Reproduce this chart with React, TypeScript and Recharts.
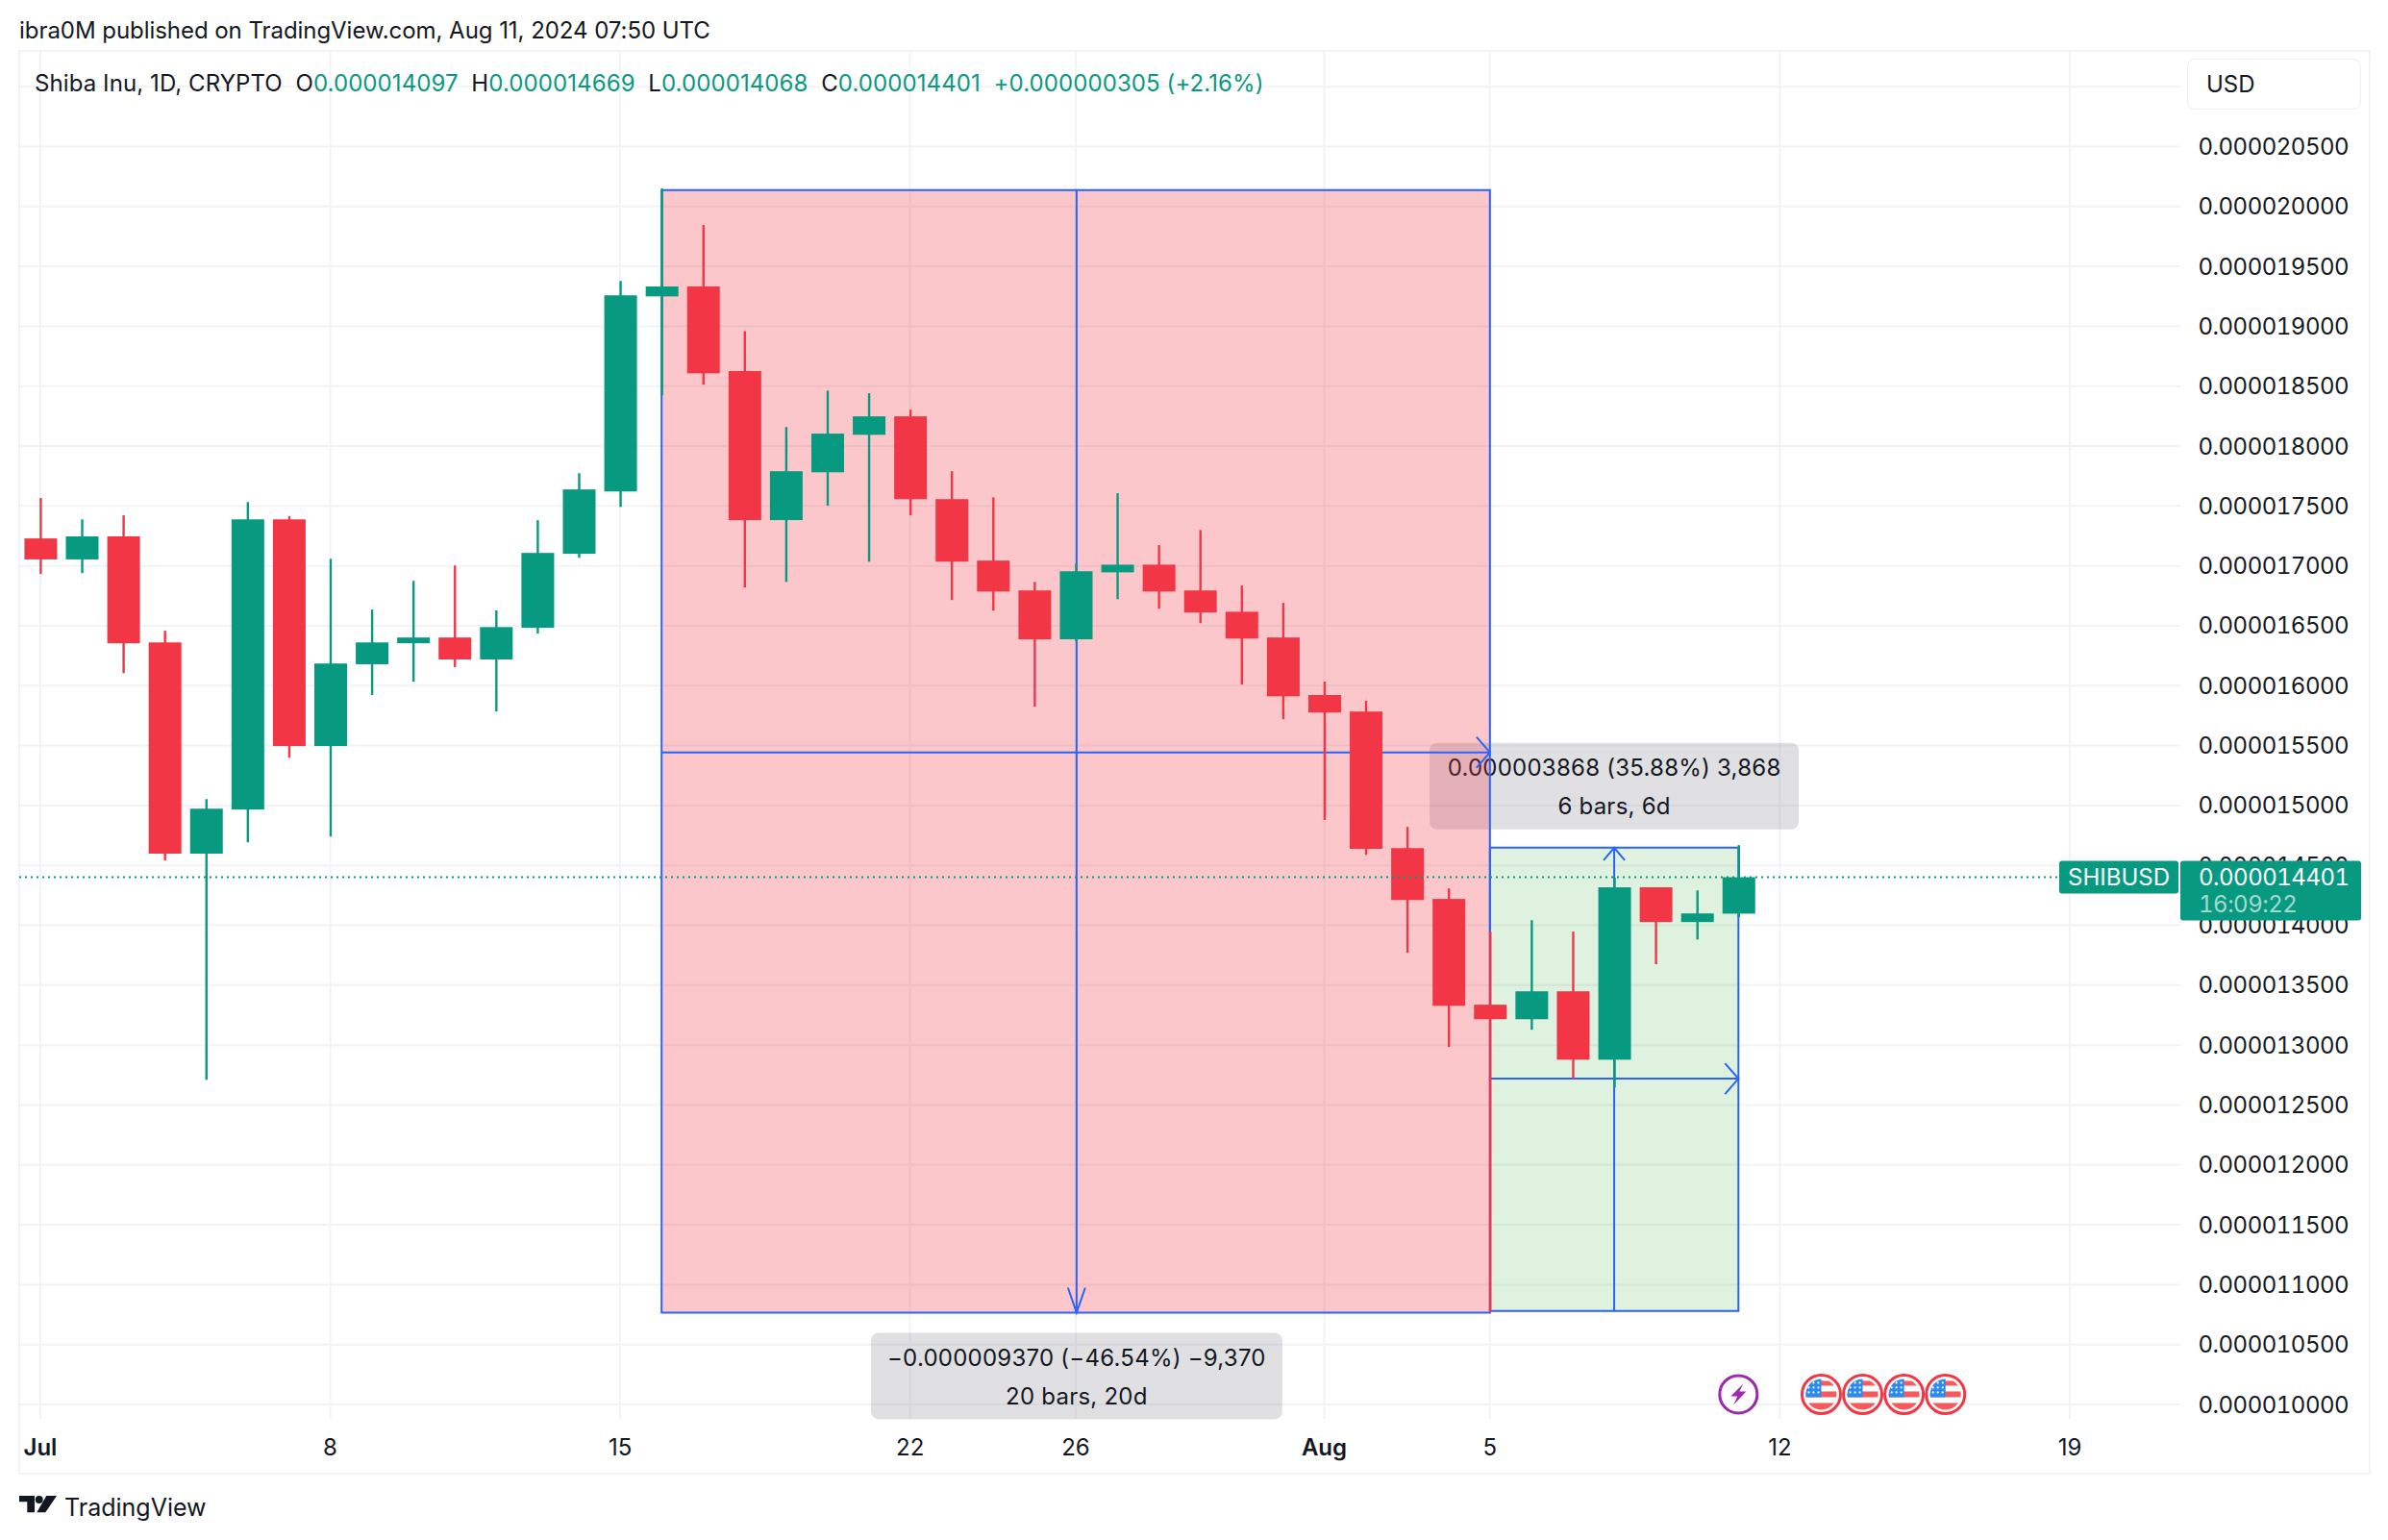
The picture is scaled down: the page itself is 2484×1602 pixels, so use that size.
import React from 'react';
import {
  ComposedChart,
  Bar,
  XAxis,
  YAxis,
  CartesianGrid,
  ReferenceArea,
  ReferenceLine,
  ReferenceDot,
} from 'recharts';

// prices are in millionths of a dollar, day 0 is Jul 1
const days = [
  0, 1, 2, 3, 4, 5, 6, 7, 8, 9, 10, 11, 12, 13, 14, 15, 16, 17, 18, 19, 20,
  21, 22, 23, 24, 25, 26, 27, 28, 29, 30, 31, 32, 33, 34, 35, 36, 37, 38, 39, 40, 41,
];
const opens = [
  17.229, 17.054, 17.246, 16.361, 14.598, 14.966, 17.388, 15.496, 16.179, 16.354, 16.402,
  16.219, 16.483, 17.101, 17.621, 19.249, 19.332, 18.626, 17.382, 17.781, 18.094, 18.248,
  17.557, 17.044, 16.795, 16.387, 16.946, 17.01, 16.795, 16.617, 16.402, 15.922, 15.784,
  14.644, 14.22, 13.337, 13.216, 13.449, 12.878, 14.317, 14.027, 14.097,
];
const highs = [
  17.567, 17.388, 17.422, 16.459, 15.054, 17.533, 17.415, 17.06, 16.635, 16.875, 17.003,
  16.628, 17.381, 17.773, 19.378, 20.149, 19.845, 18.96, 18.159, 18.463, 18.441, 18.303,
  17.79, 17.572, 16.866, 17.019, 17.606, 17.173, 17.299, 16.835, 16.691, 16.034, 15.873,
  14.821, 14.308, 13.947, 14.042, 13.947, 14.397, 14.317, 14.291, 14.669,
];
const lows = [
  16.932, 16.939, 16.104, 14.54, 12.71, 14.693, 15.398, 14.74, 15.922, 16.033, 16.155,
  15.784, 16.435, 17.067, 17.492, 18.423, 18.512, 16.82, 16.866, 17.502, 17.035, 17.422,
  16.715, 16.626, 15.825, 16.368, 16.722, 16.642, 16.522, 16.009, 15.72, 14.879, 14.589,
  13.77, 12.984, 10.77, 13.128, 12.721, 12.646, 13.675, 13.881, 14.068,
];
const closes = [
  17.054, 17.246, 16.354, 14.598, 14.973, 17.388, 15.496, 16.185, 16.361, 16.402, 16.219,
  16.489, 17.108, 17.638, 19.258, 19.332, 18.607, 17.382, 17.79, 18.104, 18.248, 17.557,
  17.035, 16.786, 16.387, 16.955, 17.01, 16.786, 16.611, 16.393, 15.911, 15.776, 14.638,
  14.211, 13.328, 13.216, 13.449, 12.878, 14.317, 14.027, 14.099, 14.401,
];

const timeTicks = [0, 7, 14, 21, 25, 31, 35, 42, 49];
const timeLabels = ['Jul', '8', '15', '22', '26', 'Aug', '5', '12', '19'];
const priceTicks = [
  10, 10.5, 11, 11.5, 12, 12.5, 13, 13.5, 14, 14.5, 15, 15.5, 16, 16.5, 17, 17.5, 18, 18.5,
  19, 19.5, 20, 20.5,
];
// the 21 line has its label hidden by the currency button
const gridPrices = [...priceTicks, 21];
const lastPrice = 14.401;
const shortDrop = { fromDay: 15, toDay: 35, top: 20.137, bottom: 10.767 };
const longRise = { fromDay: 35, toDay: 41, top: 14.648, bottom: 10.78 };
const newsDays = [41];
const holidayDays = [43, 44, 45, 46];

const UP = '#089981';
const DOWN = '#F23645';
const BLUE = '#2962FF';
const GRID = '#F2F3F6';
const INK = '#131722';
const FONT = 'Inter, "Noto Sans", sans-serif';

const candles = days.map((day, i) => ({
  day,
  open: opens[i],
  high: highs[i],
  low: lows[i],
  close: closes[i],
  range: [lows[i], highs[i]],
}));

const Candle = (props: any) => {
  const { x, y, width, height, payload } = props;
  const color = payload.close >= payload.open ? UP : DOWN;
  const perUnit = height / (payload.high - payload.low);
  const bodyTop = y + (payload.high - Math.max(payload.open, payload.close)) * perUnit;
  const bodyHeight = Math.abs(payload.close - payload.open) * perUnit;
  const mid = x + width / 2;
  return (
    <g>
      <line x1={mid} x2={mid} y1={y} y2={y + height} stroke={color} strokeWidth={2.4} />
      <rect x={x} y={bodyTop} width={width} height={bodyHeight} fill={color} />
    </g>
  );
};

const TimeTick = ({ x, y, payload }: any) => {
  const label = timeLabels[timeTicks.indexOf(payload.value)];
  const isMonth = label === 'Jul' || label === 'Aug';
  return (
    <text
      x={x}
      y={y}
      dy={30}
      textAnchor="middle"
      fontFamily={FONT}
      fontSize={24}
      fontWeight={isMonth ? 600 : 400}
      fill={INK}
    >
      {label}
    </text>
  );
};

const priceFigures: React.CSSProperties = { fontVariantNumeric: 'tabular-nums', letterSpacing: -0.5 };

const PriceTick = ({ x, y, payload }: any) => (
  <text
    x={x}
    y={y}
    dominantBaseline="central"
    fontFamily={FONT}
    fontSize={24}
    fill={INK}
    style={priceFigures}
  >
    {(payload.value / 1e6).toFixed(9)}
  </text>
);

// measuring tool leg: line, arrow head and optionally the grey caption box
const MeasureLeg = (props: any) => {
  const { x1, y1, x2, y2, head, caption, captionSide } = props;
  const s = 14;
  let arrow = '';
  if (head === 'right') arrow = `M${x2 - s} ${y2 - s - 2}L${x2} ${y2}L${x2 - s} ${y2 + s + 2}`;
  if (head === 'down') arrow = `M${x2 - 9} ${y2 - 26}L${x2} ${y2}L${x2 + 9} ${y2 - 26}`;
  if (head === 'up') arrow = `M${x1 - 11} ${y1 + 13}L${x1} ${y1}L${x1 + 11} ${y1 + 13}`;
  let box = null;
  if (caption) {
    const w = captionSide === 'above' ? 384 : 428;
    const boxH = 90;
    const boxY = captionSide === 'above' ? y1 - 19 - boxH : y2 + 21;
    box = (
      <g>
        <rect x={x1 - w / 2} y={boxY} width={w} height={boxH} rx={8} fill="#787B86" fillOpacity={0.23} />
        {caption.map((line: string, i: number) => (
          <text
            key={line}
            x={x1}
            y={boxY + 26 + i * 40}
            textAnchor="middle"
            dominantBaseline="central"
            fontFamily={FONT}
            fontSize={24}
            letterSpacing={0.24}
            fill={INK}
          >
            {line}
          </text>
        ))}
      </g>
    );
  }
  return (
    <g>
      {box}
      <line x1={x1} y1={y1} x2={x2} y2={y2} stroke={BLUE} strokeWidth={2} />
      {arrow && <path d={arrow} fill="none" stroke={BLUE} strokeWidth={2} />}
    </g>
  );
};

const PriceLine = (props: any) => {
  const { x1, x2, y1 } = props;
  const left = Math.min(x1, x2);
  const right = Math.max(x1, x2);
  const textProps = { fontFamily: FONT, fontSize: 24, dominantBaseline: 'central' as const };
  return (
    <g>
      <line x1={left} x2={right - 126} y1={y1} y2={y1} stroke={UP} strokeWidth={2} strokeDasharray="2 4" />
      <rect x={right - 126} y={y1 - 17} width={124} height={34} rx={3} fill={UP} />
      <text x={right - 64} y={y1} textAnchor="middle" fill="#fff" {...textProps}>SHIBUSD</text>
      <rect x={right} y={y1 - 17} width={188} height={62} rx={3} fill={UP} />
      <text x={right + 19} y={y1} fill="#fff" style={priceFigures} {...textProps}>0.000014401</text>
      <text x={right + 19} y={y1 + 28} fill="#fff" fillOpacity={0.65} style={priceFigures} {...textProps}>16:09:22</text>
    </g>
  );
};

const NewsMark = ({ cx, cy }: any) => (
  <g>
    <circle cx={cx} cy={cy} r={19.5} fill="#fff" stroke="#9C27B0" strokeWidth={3} />
    <path
      d={`M${cx + 5} ${cy - 11}L${cx - 8} ${cy + 2}H${cx - 1}L${cx - 5} ${cy + 11}L${cx + 8} ${cy - 3}H${cx + 1}Z`}
      fill="#9C27B0"
    />
  </g>
);

const HolidayMark = ({ cx, cy, id }: any) => (
  <g>
    <clipPath id={`flag-${id}`}>
      <circle cx={cx} cy={cy} r={16} />
    </clipPath>
    <circle cx={cx} cy={cy} r={20} fill="#fff" stroke={DOWN} strokeWidth={3} />
    <g clipPath={`url(#flag-${id})`}>
      <rect x={cx - 18} y={cy - 18} width={36} height={36} fill="#fff" />
      <rect x={cx - 18} y={cy - 14} width={36} height={5} fill="#F7595C" />
      <rect x={cx - 18} y={cy - 3} width={36} height={6} fill="#F7595C" />
      <rect x={cx - 18} y={cy + 9} width={36} height={8} fill="#F7595C" />
      <rect x={cx - 18} y={cy - 18} width={18} height={21} fill="#2A8BF2" />
      {[-13, -8, -3].map((dx) =>
        [-12, -7, -2].map((dy) => (
          <circle key={`${dx}${dy}`} cx={cx + dx} cy={cy + dy} r={1.1} fill="#fff" />
        ))
      )}
    </g>
  </g>
);

const TvLogo = () => (
  <svg width="40" height="18" viewBox="0 0 40 18" style={{ position: 'absolute', left: 20, top: 1556 }}>
    <path d="M0 0H16V17.3H8.3V6.3H0Z" fill={INK} />
    <circle cx="20.7" cy="4" r="4" fill={INK} />
    <path d="M28.3 0H39L27.3 17.3H18.3Z" fill={INK} />
  </svg>
);

const absText: React.CSSProperties = {
  position: 'absolute',
  fontFamily: FONT,
  fontSize: 24,
  lineHeight: '32px',
  color: INK,
  whiteSpace: 'pre',
};

export default function App() {
  return (
    <div
      style={{
        position: 'absolute',
        left: 0,
        top: 0,
        width: 2484,
        height: 1602,
        background: '#fff',
        overflow: 'hidden',
      }}
    >
      <div style={{ position: 'absolute', left: 19, top: 52, width: 2443, height: 1478, border: `2px solid #F0F3FA` }} />
      <ComposedChart
        width={2484}
        height={1602}
        data={candles}
        margin={{ top: 53, right: 20, bottom: 70, left: 20 }}
        style={{ position: 'absolute', left: 0, top: 0 }}
      >
        <CartesianGrid stroke={GRID} strokeWidth={2} verticalValues={timeTicks} horizontalValues={gridPrices} />
        <XAxis
          dataKey="day"
          type="number"
          domain={[-0.51, 51.67]}
          allowDataOverflow
          ticks={timeTicks}
          interval={0}
          height={56}
          axisLine={false}
          tickLine={false}
          tick={<TimeTick />}
        />
        <YAxis
          orientation="right"
          type="number"
          domain={[9.88, 21.298]}
          allowDataOverflow
          ticks={priceTicks}
          interval={0}
          width={196}
          axisLine={false}
          tickLine={false}
          tickMargin={12.5}
          tick={<PriceTick />}
        />

        <ReferenceArea
          x1={longRise.fromDay}
          x2={longRise.toDay}
          y1={longRise.top}
          y2={longRise.bottom}
          fill="#4CAF50"
          fillOpacity={0.18}
          stroke={BLUE}
          strokeWidth={2}
          zIndex={110}
        />
        <ReferenceLine
          segment={[
            { x: 38, y: longRise.bottom },
            { x: 38, y: longRise.top },
          ]}
          zIndex={120}
          shape={(p: any) => (
            <MeasureLeg
              x1={p.x1}
              y1={Math.min(p.y1, p.y2)}
              x2={p.x2}
              y2={Math.max(p.y1, p.y2)}
              head="up"
              captionSide="above"
              caption={['0.000003868 (35.88%) 3,868', '6 bars, 6d']}
            />
          )}
        />
        <ReferenceLine
          segment={[
            { x: longRise.fromDay, y: 12.72 },
            { x: longRise.toDay, y: 12.72 },
          ]}
          zIndex={120}
          shape={(p: any) => <MeasureLeg {...p} head="right" />}
        />

        <ReferenceArea
          x1={shortDrop.fromDay}
          x2={shortDrop.toDay}
          y1={shortDrop.top}
          y2={shortDrop.bottom}
          fill={DOWN}
          fillOpacity={0.28}
          stroke={BLUE}
          strokeWidth={2}
          zIndex={130}
        />
        <ReferenceLine
          segment={[
            { x: 25.02, y: shortDrop.top },
            { x: 25.02, y: shortDrop.bottom },
          ]}
          zIndex={140}
          shape={(p: any) => (
            <MeasureLeg
              x1={p.x1}
              y1={Math.min(p.y1, p.y2)}
              x2={p.x2}
              y2={Math.max(p.y1, p.y2)}
              head="down"
              captionSide="below"
              caption={['\u22120.000009370 (\u221246.54%) \u22129,370', '20 bars, 20d']}
            />
          )}
        />
        <ReferenceLine
          segment={[
            { x: shortDrop.fromDay, y: 15.443 },
            { x: shortDrop.toDay, y: 15.443 },
          ]}
          zIndex={140}
          shape={(p: any) => <MeasureLeg {...p} head="right" />}
        />

        <Bar dataKey="range" barSize={34} shape={<Candle />} isAnimationActive={false} />

        <ReferenceLine y={lastPrice} zIndex={2000} shape={(p: any) => <PriceLine {...p} />} />

        {newsDays.map((d) => (
          <ReferenceDot key={d} x={d} y={10.085} zIndex={700} shape={(p: any) => <NewsMark {...p} />} />
        ))}
        {holidayDays.map((d) => (
          <ReferenceDot key={d} x={d} y={10.085} zIndex={700} shape={(p: any) => <HolidayMark {...p} id={d} />} />
        ))}
      </ComposedChart>

      <div style={{ ...absText, left: 20, top: 16, letterSpacing: -0.05 }}>
        ibra0M published on TradingView.com, Aug 11, 2024 07:50 UTC
      </div>
      <div style={{ ...absText, left: 36, top: 71, letterSpacing: 0.09 }}>
        {'Shiba Inu, 1D, CRYPTO  O'}
        <span style={{ color: UP }}>0.000014097</span>
        {'  H'}
        <span style={{ color: UP }}>0.000014669</span>
        {'  L'}
        <span style={{ color: UP }}>0.000014068</span>
        {'  C'}
        <span style={{ color: UP }}>0.000014401  +0.000000305 (+2.16%)</span>
      </div>
      <div
        style={{
          ...absText,
          left: 2275,
          top: 61,
          width: 179,
          height: 51,
          lineHeight: '51px',
          textIndent: 19,
          background: '#fff',
          border: '1.5px solid #ECEEF4',
          borderRadius: 8,
        }}
      >
        USD
      </div>
      <TvLogo />
      <div style={{ ...absText, left: 67, top: 1552, fontSize: 25 }}>TradingView</div>
    </div>
  );
}
